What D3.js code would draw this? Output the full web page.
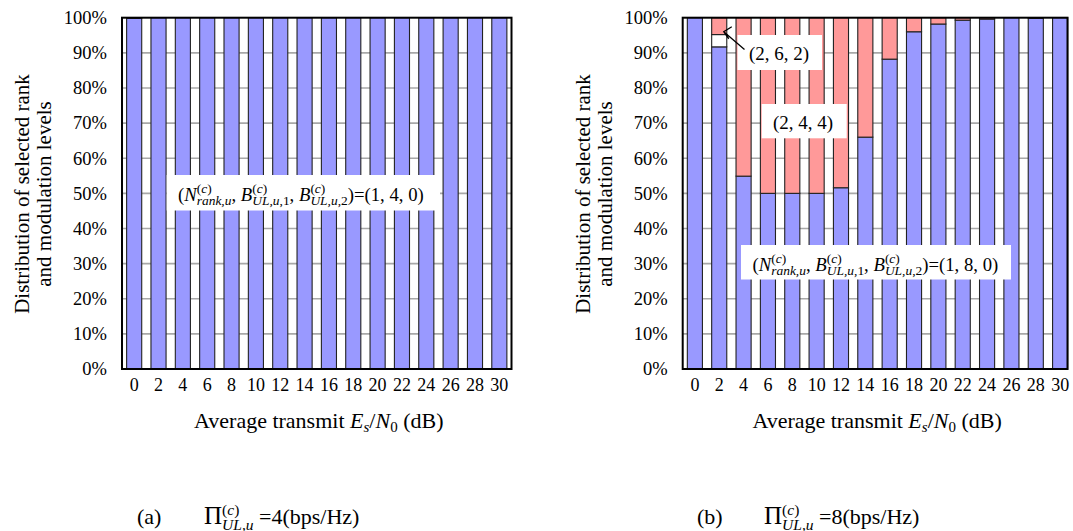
<!DOCTYPE html>
<html>
<head>
<meta charset="utf-8">
<script src="https://cdn.jsdelivr.net/npm/d3@7.9.0/dist/d3.min.js"></script>
<style>
  body { margin: 0; background: #fff; }
  svg text, svg tspan { font-family: "Liberation Serif", "Times New Roman", "DejaVu Serif", serif; white-space: pre; }
</style>
</head>
<body>
<svg id="chart" width="1073" height="531"></svg>
<script>
// x categories: average transmit Es/N0 (dB)
const snr = [0, 2, 4, 6, 8, 10, 12, 14, 16, 18, 20, 22, 24, 26, 28, 30];
const yTicks = [0, 10, 20, 30, 40, 50, 60, 70, 80, 90, 100];

// (a) Pi = 4 bps/Hz : share (%) of each (rank, B1, B2) choice
const a_140 = [99.8, 100, 100, 100, 100, 100, 100, 100, 100, 100, 100, 100, 100, 100, 100, 100];
const a_other = [0.2, 0, 0, 0, 0, 0, 0, 0, 0, 0, 0, 0, 0, 0, 0, 0];

// (b) Pi = 8 bps/Hz
const b_180 = [100, 91.7, 54.9, 50.0, 50.0, 50.0, 51.6, 66.0, 88.2, 96.0, 98.2, 99.3, 99.6, 100, 99.8, 100];
const b_262 = [0, 3.5, 0, 0, 0, 0, 0, 0, 0, 0, 0, 0, 0, 0, 0, 0];
const b_244 = [0, 4.8, 45.1, 50.0, 50.0, 50.0, 48.4, 34.0, 11.8, 4.0, 1.8, 0.7, 0.4, 0, 0.2, 0];

const colors = { blue: '#9999ff', white: '#ffffff', pink: '#ff9999' };
const FONT = '"Liberation Serif", "Times New Roman", "DejaVu Serif", serif';

const svg = d3.select('#chart').attr('font-family', FONT);

// lay out a little math string: base pieces and stacked sup/sub pieces
function drawMath(g, x, y, parts, size) {
  const t = g.append('text').attr('x', x).attr('y', y).attr('font-family', FONT).style('font-size', size + 'px');
  const measure = g.append('text').attr('font-family', FONT).style('white-space', 'pre').attr('opacity', 0);
  const width = (txt, it, fs) => {
    measure.text(txt).style('font-style', it ? 'italic' : 'normal').style('font-size', fs + 'px');
    return measure.node().getComputedTextLength();
  };
  let cx = x;
  parts.forEach(p => {
    if (p.text !== undefined) {
      const fs = p.size || size;
      t.append('tspan').attr('x', cx).attr('y', y).style('font-size', fs + 'px')
        .style('font-style', p.it ? 'italic' : 'normal').text(p.text);
      cx += width(p.text, p.it, fs);
    } else {
      const small = p.small || size * 0.72;
      let w = 0;
      if (p.sup) {
        let sx = cx;
        p.sup.forEach(s => {
          t.append('tspan').attr('x', sx).attr('y', y - size * 0.42).style('font-size', small + 'px')
            .style('font-style', s.it ? 'italic' : 'normal').text(s.text);
          sx += width(s.text, s.it, small);
        });
        w = Math.max(w, sx - cx);
      }
      if (p.sub) {
        let sx = cx;
        p.sub.forEach(s => {
          t.append('tspan').attr('x', sx).attr('y', y + size * 0.25).style('font-size', small + 'px')
            .style('font-style', s.it ? 'italic' : 'normal').text(s.text);
          sx += width(s.text, s.it, small);
        });
        w = Math.max(w, sx - cx);
      }
      cx += w;
    }
  });
  measure.remove();
  return cx - x;
}

const supC = [{ text: '(' }, { text: 'c', it: true }, { text: ')' }];
function tupleParts(val) {
  return [
    { text: '(' }, { text: 'N', it: true },
    { sup: supC, sub: [{ text: 'rank,u', it: true }] },
    { text: ', ' }, { text: 'B', it: true },
    { sup: supC, sub: [{ text: 'UL,u', it: true }, { text: ',1' }] },
    { text: ', ' }, { text: 'B', it: true },
    { sup: supC, sub: [{ text: 'UL,u', it: true }, { text: ',2' }] },
    { text: ')=' + val }
  ];
}

function panel(cfg) {
  const g = svg.append('g');
  const x = d3.scaleBand().domain(snr).range(cfg.xr).paddingInner(0.38).paddingOuter(0.19);
  const y = d3.scaleLinear().domain([0, 100]).range([369, 17.7]);
  const right = Math.min(cfg.xr[1], 1067.5);

  // gridlines
  g.append('g').selectAll('line').data(yTicks.filter(d => d > 0 && d < 100)).join('line')
    .attr('x1', cfg.xr[0]).attr('x2', right)
    .attr('y1', d => y(d)).attr('y2', d => y(d))
    .attr('stroke', '#a8a8a8').attr('stroke-width', 1.6);

  // stacked bars
  const rows = snr.map((s, i) => {
    const r = { snr: s };
    cfg.series.forEach(se => r[se.key] = se.values[i]);
    return r;
  });
  const stack = d3.stack().keys(cfg.series.map(s => s.key))(rows);
  g.append('g').selectAll('g').data(stack).join('g')
    .attr('fill', (d, i) => cfg.series[i].color)
    .selectAll('rect').data(d => d.filter(v => v[1] - v[0] > 0)).join('rect')
    .attr('x', d => x(d.data.snr))
    .attr('width', x.bandwidth())
    .attr('y', d => y(d[1]))
    .attr('height', d => y(d[0]) - y(d[1]))
    .attr('stroke', '#222').attr('stroke-width', 1.1);

  // frame
  g.append('rect').attr('x', cfg.xr[0]).attr('y', y(100))
    .attr('width', right - cfg.xr[0]).attr('height', y(0) - y(100))
    .attr('fill', 'none').attr('stroke', '#000').attr('stroke-width', 2);

  // y tick labels
  g.append('g').selectAll('text').data(yTicks).join('text')
    .attr('x', cfg.xr[0] - 15).attr('y', d => y(d)).attr('dy', '0.34em')
    .attr('text-anchor', 'end').style('font-size', '18.5px')
    .text(d => d + '%');

  // x tick labels
  g.append('g').selectAll('text').data(snr).join('text')
    .attr('x', d => x(d) + x.bandwidth() / 2).attr('y', 391)
    .attr('text-anchor', 'middle').style('font-size', '18px')
    .text(d => d);

  // x axis title
  const xt = g.append('text').attr('x', (cfg.xr[0] + right) / 2 + 2).attr('y', 428)
    .attr('text-anchor', 'middle').style('font-size', '22px');
  xt.append('tspan').text('Average transmit ');
  xt.append('tspan').style('font-style', 'italic').text('E');
  xt.append('tspan').style('font-style', 'italic').style('font-size', '15px').attr('dy', 4).text('s');
  xt.append('tspan').attr('dy', -4).text('/');
  xt.append('tspan').style('font-style', 'italic').text('N');
  xt.append('tspan').style('font-size', '15px').attr('dy', 4).text('0');
  xt.append('tspan').attr('dy', -4).text(' (dB)');

  // y axis title (two lines)
  const yt = g.append('text').attr('transform', `translate(${cfg.xr[0] - 93},194) rotate(-90)`)
    .attr('text-anchor', 'middle').style('font-size', '21px');
  yt.append('tspan').attr('x', 0).attr('y', 0).text('Distribution of selected rank');
  yt.append('tspan').attr('x', 0).attr('y', 22).text('and modulation levels');

  // caption
  const cap = g.append('g');
  cap.append('text').attr('x', cfg.capX).attr('y', 524).style('font-size', '22px').text(cfg.capLetter);
  drawMath(cap, cfg.capX + 67, 524, [
    { text: 'Π', size: 25 },
    { sup: supC, sub: [{ text: 'UL,u', it: true }], small: 15.5 },
    { text: ' =' + cfg.rate + '(bps/Hz)' }
  ], 22);

  return { g, x, y };
}

const A = panel({
  xr: [122, 511.5], capX: 137, capLetter: '(a)', rate: 4,
  series: [
    { key: 'a140', values: a_140, color: colors.blue },
    { key: 'aoth', values: a_other, color: colors.pink }
  ]
});

const B = panel({
  xr: [682.7, 1072.3], capX: 697, capLetter: '(b)', rate: 8,
  series: [
    { key: 'b180', values: b_180, color: colors.blue },
    { key: 'b262', values: b_262, color: colors.white },
    { key: 'b244', values: b_244, color: colors.pink }
  ]
});

// annotation boxes
function box(g, x0, y0, x1, y1) {
  g.append('rect').attr('x', x0).attr('y', y0).attr('width', x1 - x0).attr('height', y1 - y0).attr('fill', '#fff');
}

box(A.g, 166.7, 175, 440, 210.5);
drawMath(A.g, 178, 200.5, tupleParts('(1, 4, 0)'), 18.7);

box(B.g, 741, 245, 1011, 279.5);
drawMath(B.g, 752.5, 270.5, tupleParts('(1, 8, 0)'), 18.7);

box(B.g, 737.5, 35, 822, 70);
B.g.append('text').attr('x', 749).attr('y', 60).style('font-size', '19px').text('(2, 6, 2)');

box(B.g, 761.7, 104, 846.7, 138.3);
B.g.append('text').attr('x', 773).attr('y', 129).style('font-size', '19px').text('(2, 4, 4)');

// arrow pointing to the (2,6,2) segment
const tip = [B.x(2) + B.x.bandwidth() - 3, B.y(96.0)];
B.g.append('path')
  .attr('d', `M744.5,49.5 L${tip[0]},${tip[1]} M${tip[0] + 8},${tip[1] - 5} L${tip[0]},${tip[1]} L${tip[0] + 5},${tip[1] + 7}`)
  .attr('fill', 'none').attr('stroke', '#000').attr('stroke-width', 1.3);
</script>
</body>
</html>
